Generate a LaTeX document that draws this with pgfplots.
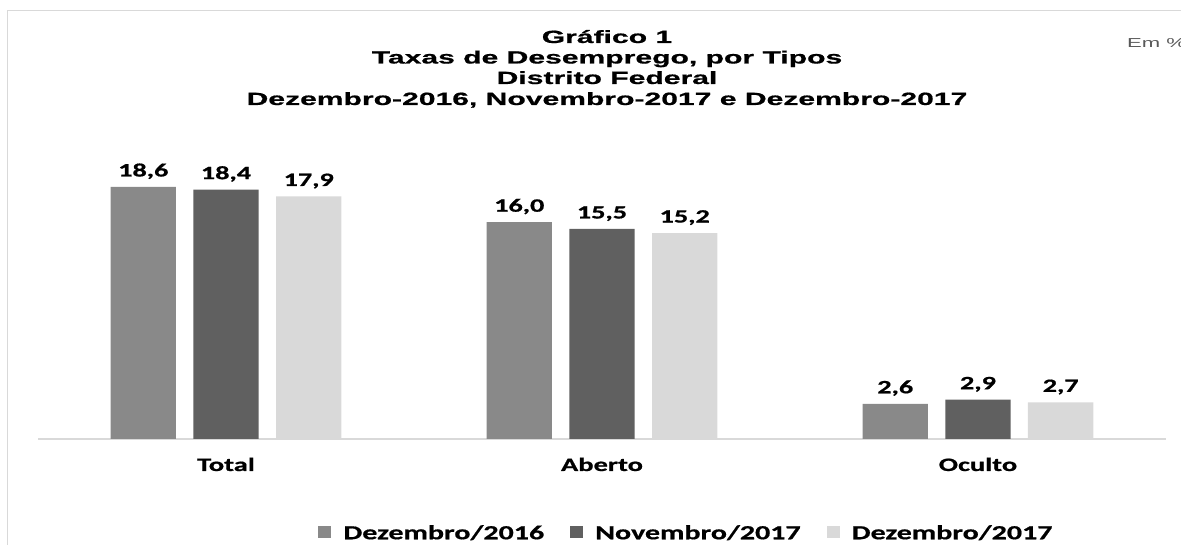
\documentclass[border=0pt]{standalone}
\usepackage{fontspec}
\usepackage{pgfplots}
\pgfplotsset{compat=1.18}
\newfontfamily\titlefont[FakeStretch=1.7, FakeBold=0.8]{Liberation Sans Bold}
\newfontfamily\emfont[FakeStretch=1.7]{Liberation Sans}
\newfontfamily\calfont[FakeStretch=1.5, FakeBold=0.8]{Carlito Bold}
\definecolor{cA}{HTML}{898989}
\definecolor{cB}{HTML}{606060}
\definecolor{cC}{HTML}{D9D9D9}
\definecolor{frm}{HTML}{D9D9D9}
\definecolor{emg}{HTML}{595959}
\begin{document}
\begin{tikzpicture}[x=1pt,y=1pt]
\path[use as bounding box] (0,0) rectangle (1181,545);
\draw[frm, line width=1.2pt] (7.5,-20) -- (7.5,534.5) -- (1200,534.5);
\node[anchor=base, font=\titlefont\fontsize{17.7pt}{18pt}\selectfont, inner sep=0pt] at (607,502) {Gráfico 1};
\node[anchor=base, font=\titlefont\fontsize{17.7pt}{18pt}\selectfont, inner sep=0pt] at (607,481.5) {Taxas de Desemprego, por Tipos};
\node[anchor=base, font=\titlefont\fontsize{17.7pt}{18pt}\selectfont, inner sep=0pt] at (607,461) {Distrito Federal};
\node[anchor=base, font=\titlefont\fontsize{17.7pt}{18pt}\selectfont, inner sep=0pt] at (607,440) {Dezembro-2016, Novembro-2017 e Dezembro-2017};
\node[anchor=base west, text=emg, font=\emfont\fontsize{13pt}{13pt}\selectfont, inner sep=0pt] at (1127,497) {Em \%};
\begin{axis}[
  at={(38pt,106pt)}, anchor=south west, scale only axis,
  width=1128pt, height=338.75pt,
  xmin=-0.5, xmax=2.5, ymin=0, ymax=25,
  axis x line*=bottom, axis y line=none,
  x axis line style={draw=cC, line width=1.2pt, -},
  xtick={0,1,2}, xticklabels={Total,Aberto,Oculto},
  major tick length=0pt, ytick=\empty,
  xticklabel style={font=\calfont\fontsize{19pt}{19pt}\selectfont, anchor=base, yshift=-32pt, text=black},
  clip=false,
  nodes near coords={\pgfmathprintnumber[fixed,fixed zerofill,precision=1,use comma,assume math mode=true]{\pgfplotspointmeta}},
  nodes near coords style={font=\calfont\fontsize{18.8pt}{19pt}\selectfont, anchor=base, yshift=10.5pt, inner sep=0pt, text=black},
  legend style={at={(0.574,-0.2775)}, anchor=center, draw=none, fill=none,
    legend columns=3, font=\calfont\fontsize{20pt}{20pt}\selectfont,
    nodes={inner sep=0pt},
    /tikz/every odd column/.append style={column sep=12pt},
    /tikz/every even column/.append style={column sep=26pt}},
  legend image code/.code={\fill[#1] (0pt,-5.5pt) rectangle (13pt,7pt);},
]
\addplot[ybar, bar width=0.174, bar shift=0, fill=cA, draw=none] coordinates {(-0.22,18.6) (0.78,16.0) (1.78,2.6)};
\addplot[ybar, bar width=0.174, bar shift=0, fill=cB, draw=none] coordinates {(0,18.4) (1,15.5) (2,2.9)};
\addplot[ybar, bar width=0.174, bar shift=0, fill=cC, draw=none] coordinates {(0.22,17.9) (1.22,15.2) (2.22,2.7)};
\legend{Dezembro/2016, Novembro/2017, Dezembro/2017}
\end{axis}
\end{tikzpicture}
\end{document}
